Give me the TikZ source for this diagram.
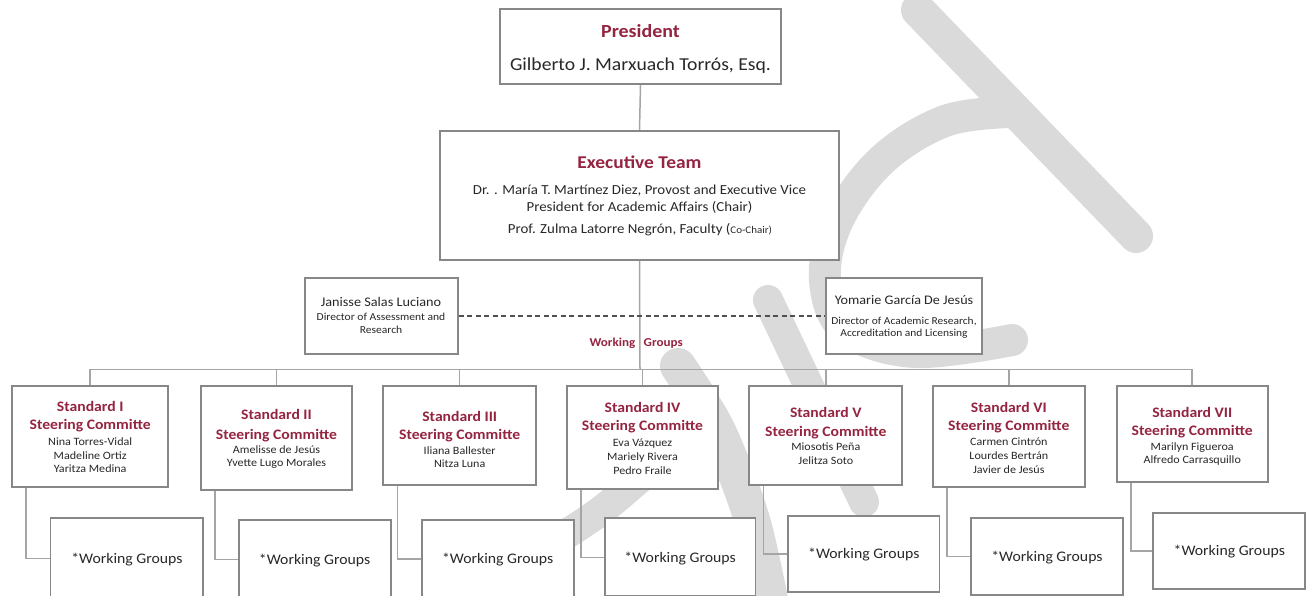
\documentclass[tikz,border=0pt]{standalone}
\usepackage{fontspec}
\setmainfont{Carlito}[FakeStretch=1.08]
\definecolor{mar}{RGB}{148,36,64}
\definecolor{boxgray}{RGB}{135,135,135}
\definecolor{linegray}{RGB}{165,165,165}
\definecolor{dashgray}{RGB}{80,80,80}
\definecolor{txtc}{RGB}{40,40,40}
\definecolor{wm}{RGB}{218,218,218}
\newcommand\fs[1]{\fontsize{#1}{#1}\selectfont}
\tikzset{
  box/.style={draw=boxgray, line width=1.8pt, fill=white, inner sep=0pt},
  tx/.style={anchor=base, inner sep=0pt, text=txtc},
  ttl/.style={anchor=base, inner sep=0pt, text=mar, font=\fs{14.5}\bfseries},
  nm/.style={anchor=base, inner sep=0pt, text=txtc, font=\fs{11.2}},
  conn/.style={draw=linegray, line width=1.5pt},
  dashline/.style={draw=dashgray, line width=1.6pt, dash pattern=on 5pt off 3.5pt},
  wg/.style={box, text=txtc, font=\fs{14.6}, text height=9.4pt, text depth=0pt},
  wmark/.style={draw=wm, line cap=round, line join=round},
}
\begin{document}
\begin{tikzpicture}[x=1pt,y=-1pt]
\useasboundingbox (0,0) rectangle (1306,595);
% watermark strokes (behind the chart)
\draw[wmark, line width=34pt] (918,10) -- (1136,236);
\draw[wmark, line width=32pt] plot[smooth, tension=0.6] coordinates {(1010,112) (945,121) (882,160) (838,220) (825,280) (846,330) (915,352) (1012,340)};
\draw[wmark, line width=30pt] (768,300) -- (864,502);
\draw[wmark, line width=36pt] plot[smooth, tension=0.6] coordinates {(678,366) (700,400) (722,440) (752,520) (772,610)};
\draw[wmark, line width=30pt] plot[smooth, tension=0.6] coordinates {(640,478) (602,510) (565,535)};

% top boxes
\node[box, minimum width=281, minimum height=75] (pres) at (640.5,46.5) {};
\node[tx, text=mar, font=\fs{18.5}\bfseries] (presT) at (640.5,37.7) {President};
\node[tx, font=\fs{18.2}] (presN) at (640.5,70) {Gilberto J. Marxuach Torrós, Esq.};

\node[box, minimum width=399, minimum height=129] (exec) at (639.5,195.5) {};
\node[tx, text=mar, font=\fs{18}\bfseries] (execT) at (639.5,168.3) {Executive Team};
\node[tx, font=\fs{13.8}] (execA) at (639.5,194.3) {Dr. . María T. Martínez Diez, Provost and Executive Vice};
\node[tx, font=\fs{13.8}] (execB) at (639.5,211) {President for Academic Affairs (Chair)};
\node[tx, font=\fs{13.8}] (execC) at (640,233.3) {Prof. Zulma Latorre Negrón, Faculty ({\fs{10.2}Co-Chair)}};

\node[box, minimum width=152.7, minimum height=75.7] (jan) at (381.3,316.2) {};
\node[tx, font=\fs{13.2}] (janN) at (381,306.7) {Janisse Salas Luciano};
\node[tx, font=\fs{10.7}] (janA) at (381,320.7) {Director of Assessment and};
\node[tx, font=\fs{10.7}] (janB) at (381,333.3) {Research};

\node[box, minimum width=156, minimum height=75.7] (yom) at (904,316.2) {};
\node[tx, font=\fs{13.1}] (yomN) at (904,304.3) {Yomarie García De Jesús};
\node[tx, font=\fs{10.6}] (yomA) at (904,324.3) {Director of Academic Research,};
\node[tx, font=\fs{10.6}] (yomB) at (904,336.7) {Accreditation and Licensing};

\coordinate (bus) at (640,369.3);
\draw[conn] (pres.south) -- (exec.north);
\draw[conn] (exec.south) -- (bus);
\draw[dashline] (jan.east) -- (yom.west);
\node[anchor=base east, inner sep=0pt, text=mar, font=\fs{12.1}\bfseries] (wgL) at (635.5,346) {Working};
\node[anchor=base west, inner sep=0pt, text=mar, font=\fs{12.1}\bfseries] (wgR) at (643.5,346) {Groups};

% standard boxes
\node[box, minimum width=156.3, minimum height=100.7] (s1) at (90.2,436.3) {};
\node[box, minimum width=151.6, minimum height=104] (s2) at (276.5,438) {};
\node[box, minimum width=152.7, minimum height=99] (s3) at (459.7,435.5) {};
\node[box, minimum width=151.6, minimum height=103] (s4) at (642.5,437.5) {};
\node[box, minimum width=153, minimum height=99] (s5) at (825.8,435.5) {};
\node[box, minimum width=152.3, minimum height=100.7] (s6) at (1008.8,436.3) {};
\node[box, minimum width=151, minimum height=95.7] (s7) at (1192.2,433.8) {};

\draw[conn] (s1.north |- bus) -- (s7.north |- bus);
\foreach \s in {s1,s2,s3,s4,s5,s6,s7} \draw[conn] (\s.north) -- (\s.north |- bus);

\node[ttl] (s1a) at (90.2,411) {Standard I};
\node[ttl] (s1b) at (90.2,429) {Steering Committe};
\node[nm] (s1c) at (90.2,445.7) {Nina Torres-Vidal};
\node[nm] (s1d) at (90.2,459) {Madeline Ortiz};
\node[nm] (s1e) at (90.2,472.7) {Yaritza Medina};

\node[ttl] (s2a) at (276.5,419.3) {Standard II};
\node[ttl] (s2b) at (276.5,439) {Steering Committe};
\node[nm] (s2c) at (276.5,453.3) {Amelisse de Jesús};
\node[nm] (s2d) at (276.5,466.7) {Yvette Lugo Morales};

\node[ttl] (s3a) at (459.7,421) {Standard III};
\node[ttl] (s3b) at (459.7,439.3) {Steering Committe};
\node[nm] (s3c) at (459.7,454) {Iliana Ballester};
\node[nm] (s3d) at (459.7,467.7) {Nitza Luna};

\node[ttl] (s4a) at (642.5,412.3) {Standard IV};
\node[ttl] (s4b) at (642.5,430.7) {Steering Committe};
\node[nm] (s4c) at (642.5,446) {Eva Vázquez};
\node[nm] (s4d) at (642.5,460) {Mariely Rivera};
\node[nm] (s4e) at (642.5,474) {Pedro Fraile};

\node[ttl] (s5a) at (825.8,417.3) {Standard V};
\node[ttl] (s5b) at (825.8,436) {Steering Committe};
\node[nm] (s5c) at (825.8,450.7) {Miosotis Peña};
\node[nm] (s5d) at (825.8,464) {Jelitza Soto};

\node[ttl] (s6a) at (1008.8,412.3) {Standard VI};
\node[ttl] (s6b) at (1008.8,430) {Steering Committe};
\node[nm] (s6c) at (1008.8,445) {Carmen Cintrón};
\node[nm] (s6d) at (1008.8,459) {Lourdes Bertrán};
\node[nm] (s6e) at (1008.8,473.3) {Javier de Jesús};

\node[ttl] (s7a) at (1192.2,417.3) {Standard VII};
\node[ttl] (s7b) at (1192.2,435) {Steering Committe};
\node[nm] (s7c) at (1192.2,450) {Marilyn Figueroa};
\node[nm] (s7d) at (1192.2,463.3) {Alfredo Carrasquillo};

% working group boxes
\node[wg, minimum width=152.8, minimum height=81] (w1) at (126.9,558.3) {*Working Groups};
\node[wg, minimum width=152, minimum height=78] (w2) at (314.6,559.3) {*Working Groups};
\node[wg, minimum width=152, minimum height=78] (w3) at (497.7,559) {*Working Groups};
\node[wg, minimum width=150.6, minimum height=78] (w4) at (680.1,557.3) {*Working Groups};
\node[wg, minimum width=151.5, minimum height=75.7] (w5) at (863.8,554) {*Working Groups};
\node[wg, minimum width=151.5, minimum height=76.7] (w6) at (1047,556.7) {*Working Groups};
\node[wg, minimum width=151.9, minimum height=76] (w7) at (1229.3,551) {*Working Groups};

\foreach \i in {1,...,7} \draw[conn] ([xshift=15pt]s\i.south west) |- (w\i.west);
\end{tikzpicture}
\end{document}
